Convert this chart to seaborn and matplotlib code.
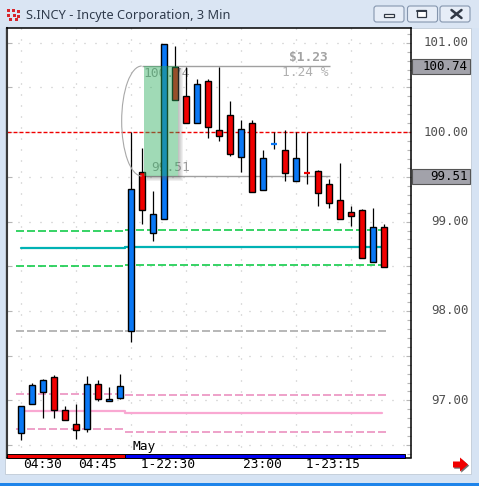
import matplotlib
matplotlib.use("Agg")
import matplotlib.pyplot as plt
from matplotlib.patches import Rectangle, Arc, Polygon, FancyBboxPatch
from matplotlib.ticker import MultipleLocator
from matplotlib.transforms import blended_transform_factory
import seaborn as sns
import pandas as pd

# ---- data (3 min bars, S.INCY) ----
opens = [96.63, 96.96, 97.09, 97.26, 96.89, 96.74, 96.68, 97.18, 96.99, 97.03,
         97.78, 99.55, 98.87, 99.03, 100.73, 100.40, 100.10, 100.57, 100.03, 100.19,
         99.72, 100.10, 99.35, 99.86, 99.80, 99.45, 99.55, 99.57, 99.42, 99.24,
         99.11, 99.13, 98.55, 98.94]
highs = [96.94, 97.19, 97.24, 97.28, 96.94, 96.96, 97.27, 97.23, 97.15, 97.30,
         100.00, 99.82, 99.34, 100.99, 100.96, 100.73, 100.60, 100.60, 100.73, 100.35,
         100.14, 100.14, 99.80, 100.00, 100.02, 100.00, 100.00, 99.58, 99.48, 99.66,
         99.18, 99.14, 99.15, 98.97]
lows = [96.56, 96.96, 96.80, 96.80, 96.78, 96.57, 96.65, 96.99, 96.99, 97.02,
        97.65, 98.97, 98.78, 99.03, 100.36, 100.10, 100.10, 99.93, 99.90, 99.73,
        99.55, 99.33, 99.35, 99.81, 99.45, 99.45, 99.42, 99.17, 99.15, 99.03,
        98.95, 98.59, 98.55, 98.49]
closes = [96.94, 97.17, 97.23, 96.89, 96.78, 96.67, 97.18, 97.02, 97.02, 97.16,
          99.36, 99.13, 99.09, 100.99, 100.36, 100.10, 100.54, 100.06, 99.96, 99.76,
          100.04, 99.33, 99.71, 99.87, 99.54, 99.71, 99.54, 99.32, 99.21, 99.03,
          99.06, 98.59, 98.94, 98.49]

tick_pos = [0, 5, 10, 20, 25]
tick_labels = ["04:30", "04:45", " 1-22:30", "23:00", " 1-23:15"]
session_break = 9.5          # between the two sessions

# levels: [previous session, current session]
green_hi = [98.90, 98.91]
teal_mid = [98.70, 98.72]
green_lo = [98.50, 98.51]
gray_lvl = [97.78, 97.78]
pink_hi = [97.07, 97.06]
pink_mid = [96.88, 96.86]
pink_lo = [96.68, 96.65]

ref_level = 100.00
range_top, range_bottom = 100.74, 99.51
range_start, range_end = 10.97, 28.1
y_labels = [97, 98, 99, 100, 101]

W, H = 479, 486
PT = 0.72  # points per pixel at 100 dpi

sns.set_style("white")
plt.rcParams["lines.scale_dashes"] = False
plt.rcParams["font.family"] = ["DejaVu Sans"]
MONO = "DejaVu Sans Mono"

fig = plt.figure(figsize=(W / 100, H / 100), dpi=100)
fig.patch.set_facecolor("#D6E3F3")

# background / window frame in pixel coords
bg = fig.add_axes([0, 0, 1, 1], zorder=0)
bg.set_xlim(0, W)
bg.set_ylim(H, 0)
bg.axis("off")
bg.add_patch(Rectangle((0, 0), W, 28, color="#DAE5F3", lw=0))
bg.add_patch(Rectangle((5, 28), 466, 446, facecolor="white", edgecolor="#C5CFDB", lw=0.7))
bg.add_patch(Rectangle((0, 483), W, 3, color="#1E84EA", lw=0))
bg.text(26, 15, "S.INCY - Incyte Corporation, 3 Min", fontsize=9.2, family="Noto Sans",
        color="#2F3B4C", va="center", ha="left")
# icon
for (ix, iy) in [(7, 9), (12, 9), (17, 10), (7, 14), (13, 14), (17, 15), (9, 18), (15, 18)]:
    bg.add_patch(Rectangle((ix, iy), 3.5, 3, color="#D8262C", lw=0))
# window buttons
for bx in [374, 407.5, 440]:
    bg.add_patch(FancyBboxPatch((bx, 6), 30, 16, boxstyle="round,pad=0,rounding_size=2.5",
                                facecolor="#E6EDF7", edgecolor="#8596AE", lw=0.8))
bg.add_patch(Rectangle((384.5, 14.5), 10, 3, facecolor="white", edgecolor="#303845", lw=0.9))
bg.add_patch(Rectangle((417.5, 10), 9, 7.5, facecolor="white", edgecolor="#303845", lw=0.9))
bg.plot([417.5, 426.5], [11, 11], color="#303845", lw=1.4)
bg.plot([451.5, 461.5], [10, 18], color="#303845", lw=1.8)
bg.plot([451.5, 461.5], [18, 10], color="#303845", lw=1.8)
# red arrow bottom right
arrow = [(453, 461.5), (460, 461.5), (460, 457.5), (468, 464.5), (460, 471.5), (460, 467.5), (453, 467.5)]
bg.add_patch(Polygon([(x + 1.2, y + 1.2) for x, y in arrow], color="#707070", lw=0))
bg.add_patch(Polygon(arrow, color="#F00000", lw=0))

# ---- chart axes ----
ax_l, ax_r, ax_t, ax_b = 6.5, 411, 28, 457.5
ax = fig.add_axes([ax_l / W, 1 - ax_b / H, (ax_r - ax_l) / W, (ax_b - ax_t) / H], zorder=1)
ax.set_facecolor("white")
ax.set_xlim(-1.318, 35.4545)
ax.set_ylim(96.3613, 101.1655)
dx = (35.4545 + 1.318) / (ax_r - ax_l)       # data units per pixel
dy = (101.1655 - 96.3613) / (ax_b - ax_t)

for s in ["top", "right", "bottom"]:
    ax.spines[s].set_color("black")
    ax.spines[s].set_linewidth(1.1)
ax.spines["left"].set_color("#3A3A3A")
ax.spines["left"].set_linewidth(1.5)

# dotted grid
n = len(opens)
for gx in range(0, n, 5):
    ax.axvline(gx, color="#BDBDBD", lw=0.9, ls=(0, (0.72, 7.2)), zorder=0.5)
for gy in [96.5 + 0.5 * k for k in range(10)]:
    ax.axhline(gy, color="#BDBDBD", lw=0.9, ls=(0, (0.72, 7.2)), zorder=0.5)

# ticks
ax.yaxis.set_major_locator(MultipleLocator(0.5))
ax.yaxis.set_minor_locator(MultipleLocator(0.1))
ax.tick_params(axis="y", which="both", direction="in", left=True, right=True,
               labelleft=False, labelright=False, color="#B5B5B5", width=0.8)
ax.tick_params(axis="y", which="major", length=5 * PT)
ax.tick_params(axis="y", which="minor", length=4 * PT, left=False)
ax.set_xticks(tick_pos)
ax.set_xticklabels([])
ax.tick_params(axis="x", which="major", direction="out", length=13 * PT, width=1.1,
               color="black", top=False)

# level lines
dash = (0, (8 * PT, 3 * PT))
left_dash, right_end = -0.45, n - 1 + 0.45
for lvl, col in [(green_hi, "#00C83C"), (green_lo, "#00C83C"), (gray_lvl, "#A3A3A3"),
                 (pink_hi, "#EA88BA"), (pink_lo, "#EA88BA")]:
    ax.hlines(lvl[0], left_dash, session_break, color=col, lw=1.1, ls=dash, zorder=1)
    ax.hlines(lvl[1], session_break, right_end, color=col, lw=1.1, ls=dash, zorder=1)

solid = pd.DataFrame({
    "x": [0, session_break, session_break, n - 1.2] * 2,
    "y": [teal_mid[0], teal_mid[0], teal_mid[1], teal_mid[1],
          pink_mid[0], pink_mid[0], pink_mid[1], pink_mid[1]],
    "line": ["teal"] * 4 + ["pink"] * 4,
})
sns.lineplot(data=solid, x="x", y="y", hue="line", palette={"teal": "#00B2B4", "pink": "#F9A8D2"},
             estimator=None, sort=False, lw=1.6, legend=False, ax=ax, zorder=1)
ax.set_xlabel("")
ax.set_ylabel("")

ax.axhline(ref_level, color="#F00000", lw=1.0, ls=(0, (4 * PT, 2 * PT)), zorder=1.2)

# range measurement lines + texts
for lvl in [range_top, range_bottom]:
    ax.hlines(lvl, range_start, range_end, color="#A0A0A0", lw=1.0, zorder=1.3)
box_r = 14.3
ax.annotate(f"{range_top:.2f}", xy=(box_r, range_top), xytext=(12, -7), textcoords="offset pixels",
            ha="right", va="center", fontsize=9.3, family=MONO, color="#9A9A9A", zorder=1.4)
ax.annotate(f"{range_bottom:.2f}", xy=(box_r, range_bottom), xytext=(12, 9), textcoords="offset pixels",
            ha="right", va="center", fontsize=9.3, family=MONO, color="#9A9A9A", zorder=1.4)
diff = range_top - range_bottom
ax.annotate(f"${diff:.2f}", xy=(range_end, range_top), xytext=(-2, 9), textcoords="offset pixels",
            ha="right", va="center", fontsize=9.3, family=MONO, weight="bold", color="#A3A3A3")
ax.annotate(f"{diff / range_bottom * 100:.2f} %", xy=(range_end, range_top), xytext=(-2, -6),
            textcoords="offset pixels", ha="right", va="center", fontsize=9.3, family=MONO,
            color="#B0B0B0")

# candles
bw = 0.58
for i, (o, h, l, c) in enumerate(zip(opens, highs, lows, closes)):
    col = "#0A78F5" if c >= o else "#F00000"
    ax.vlines(i, l, h, color="black", lw=0.9, zorder=2)
    if abs(c - o) < 0.015:
        ax.hlines((o + c) / 2, i - 0.24, i + 0.24, color=col, lw=1.6, zorder=2.5)
    else:
        ax.bar(i, abs(c - o), bottom=min(o, c), width=bw, color=col, edgecolor="black",
               lw=1.0, zorder=2.5)

# green highlight box with shadow
gx0, gx1 = 11.2, 14.3
for k in range(1, 6):
    ax.add_patch(Rectangle((gx1, range_bottom - k * dy), k * dx, diff - 2 * dy + k * dy,
                           color="#606060", alpha=0.09, lw=0, zorder=3.4))
    ax.add_patch(Rectangle((gx0 + 3 * dx, range_bottom - k * dy), gx1 - gx0 - 3 * dx, k * dy,
                           color="#606060", alpha=0.09, lw=0, zorder=3.4))
ax.add_patch(Rectangle((gx0, range_bottom), gx1 - gx0, diff, color="#2EAF5F", alpha=0.45,
                       lw=0, zorder=3.5))
ax.add_patch(Arc((range_start, (range_top + range_bottom) / 2), 2 * 20 * dx, diff,
                 theta1=90, theta2=270, color="#A8A8A8", lw=0.8, zorder=3.6))

# bottom session bar
bar_h = 3.5 / (ax_b - ax_t)
tr = blended_transform_factory(ax.transData, ax.transAxes)
ax.add_patch(Rectangle((-1.318, 0), session_break + 1.318, bar_h, transform=tr,
                       facecolor="#F00000", edgecolor="black", lw=0.7, zorder=5, clip_on=False))
ax.add_patch(Rectangle((session_break, 0), n + 0.95 - session_break, bar_h, transform=tr,
                       facecolor="#0000F5", edgecolor="black", lw=0.7, zorder=5, clip_on=False))

# x labels
for p, lab in zip(tick_pos, tick_labels):
    ax.annotate(lab, xy=(p, 0), xycoords=("data", "axes fraction"), xytext=(2, -7),
                textcoords="offset pixels", ha="left", va="center", fontsize=9.3,
                family=MONO, color="black", annotation_clip=False)
ax.annotate("May", xy=(10, 0), xycoords=("data", "axes fraction"), xytext=(2, 11),
            textcoords="offset pixels", ha="left", va="center", fontsize=9.3,
            family=MONO, color="black")

# y labels
for v in y_labels:
    ax.annotate(f"{v:.2f}", xy=(1, v), xycoords=("axes fraction", "data"), xytext=(58, 0),
                textcoords="offset pixels", ha="right", va="center", fontsize=9.0,
                family=MONO, color="#505050", annotation_clip=False)
trb = blended_transform_factory(bg.transData, ax.transData)
for v in [range_top, range_bottom]:
    ax.add_patch(Rectangle((412.5, v - 7.5 * dy), 57.5, 15 * dy, transform=trb,
                           facecolor="#A2A2AA", edgecolor="#555555", lw=0.8, clip_on=False, zorder=6))
    ax.annotate(f"{v:.2f}", xy=(1, v), xycoords=("axes fraction", "data"), xytext=(57, 0),
                textcoords="offset pixels", ha="right", va="center", fontsize=9.0,
                family=MONO, color="black", annotation_clip=False, zorder=7)

fig.savefig("out.png", dpi=100, facecolor=fig.get_facecolor())
